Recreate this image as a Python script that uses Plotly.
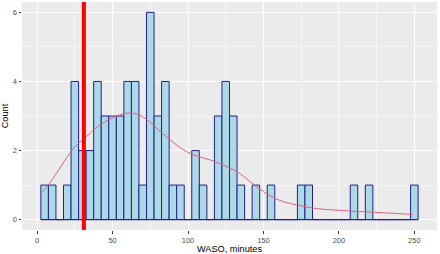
import plotly.graph_objects as go

# Histogram bins (bin width 5, centred on multiples of 5)
bin_width = 5
bin_centers = list(range(5, 255, 5))
counts = [1, 1, 0, 1, 4, 2, 2, 4, 3, 3,
          3, 4, 4, 1, 6, 3, 4, 1, 1, 0,
          2, 1, 0, 3, 4, 3, 1, 0, 1, 0,
          1, 0, 0, 0, 1, 1, 0, 0, 0, 0,
          0, 1, 0, 1, 0, 0, 0, 0, 0, 1]

# Density curve (scaled to counts)
dens_x = [3, 7, 14, 21.6, 26, 32.6, 38, 43.6, 49, 54.6, 61.7, 66, 70.5, 75, 79.4, 88.2, 97,
          105.8, 114.6, 123.4, 127.8, 132.3, 136.6, 145.5, 154.3, 163.1, 171.9,
          180.8, 189.6, 200.6, 207.2, 220.4, 233.6, 249]
dens_y = [0.78, 0.98, 1.42, 1.92, 2.15, 2.4, 2.62, 2.79, 2.93, 3.03, 3.09, 3.06, 2.96, 2.82, 2.64,
          2.31, 2.02, 1.84, 1.73, 1.58, 1.49, 1.39, 1.26, 0.95, 0.69, 0.52, 0.43,
          0.35, 0.3, 0.27, 0.25, 0.22, 0.19, 0.15]

ref_line_x = 31
x_ticks = [0, 50, 100, 150, 200, 250]
y_ticks = [0, 2, 4, 6]

fill_color = "#ADD8E6"
edge_color = "#22228F"

fig = go.Figure()
fig.add_trace(go.Bar(
    x=bin_centers, y=counts, width=bin_width,
    marker=dict(color=fill_color, line=dict(color=edge_color, width=1)),
    showlegend=False, hoverinfo="skip", textposition="none", cliponaxis=False,
))
# baseline of the zero-height bins
fig.add_trace(go.Scatter(
    x=[bin_centers[0] - bin_width / 2, bin_centers[-1] + bin_width / 2], y=[0, 0],
    mode="lines", line=dict(color=edge_color, width=1), showlegend=False, hoverinfo="skip",
))
fig.add_trace(go.Scatter(
    x=dens_x, y=dens_y, mode="lines", line=dict(color="#E0607E", width=1, shape="spline"),
    showlegend=False, hoverinfo="skip",
))
fig.add_vline(x=ref_line_x, line=dict(color="#FF0000", width=4))

font_family = "Liberation Sans, Arial, sans-serif"
fig.update_layout(
    width=440, height=254,
    margin=dict(l=22, r=3, t=2, b=24, autoexpand=False),
    paper_bgcolor="white", plot_bgcolor="#EBEBEB",
    bargap=0,
    font=dict(family=font_family, color="#000000"),
    xaxis=dict(
        range=[-10, 265], tickvals=x_ticks, ticktext=[str(v) for v in x_ticks],
        showgrid=True, gridcolor="white", gridwidth=1,
        minor=dict(dtick=25, tick0=0, showgrid=True, gridcolor="white", gridwidth=0.5, ticks=""),
        ticks="outside", ticklen=2.5, tickwidth=1, tickcolor="#333333",
        tickfont=dict(size=7.5, color="#4D4D4D"),
        zeroline=False, showline=False, automargin=False,
        title=dict(text="WASO, minutes", font=dict(size=9.2, color="#000000"), standoff=0),
    ),
    yaxis=dict(
        range=[-0.3, 6.3], tickvals=y_ticks, ticktext=[str(v) for v in y_ticks],
        showgrid=True, gridcolor="white", gridwidth=1,
        minor=dict(dtick=1, tick0=0, showgrid=True, gridcolor="white", gridwidth=0.5, ticks=""),
        ticks="outside", ticklen=2.5, tickwidth=1, tickcolor="#333333",
        tickfont=dict(size=7.5, color="#4D4D4D"),
        zeroline=False, showline=False, automargin=False,
        title=dict(text="Count", font=dict(size=9.2, color="#000000"), standoff=2),
    ),
)

fig.write_html(
    "out.html",
    config={"displayModeBar": False, "staticPlot": True},
    post_script="document.body.style.margin='0';document.body.style.padding='0';",
)
